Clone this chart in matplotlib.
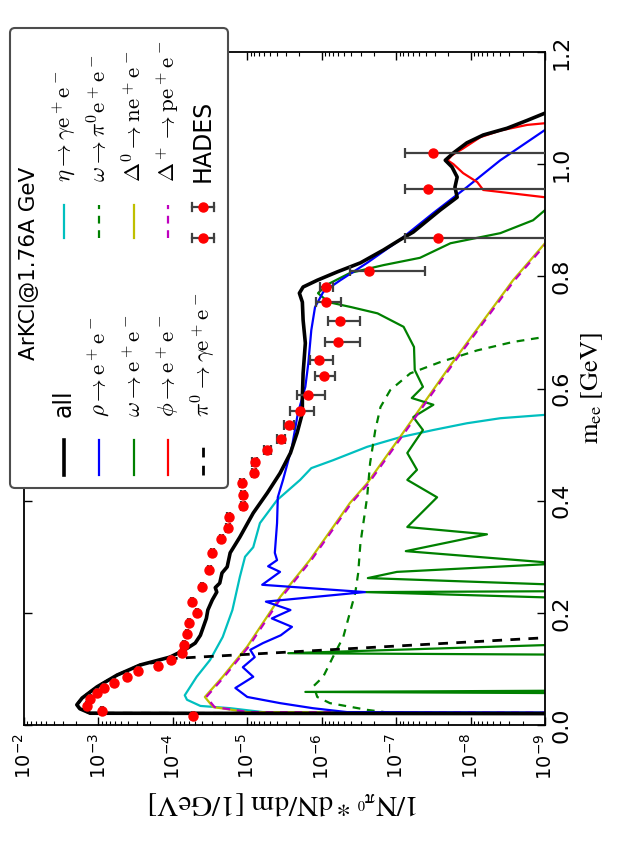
import numpy as np
import matplotlib
matplotlib.use("Agg")
import matplotlib.pyplot as plt
from matplotlib.patches import FancyBboxPatch
from matplotlib.lines import Line2D
from matplotlib.ticker import FixedLocator, FormatStrFormatter, NullFormatter, LogFormatterSciNotation

# ---------------------------------------------------------------------------
# Dilepton invariant-mass spectra, ArKCl @ 1.76A GeV
# values are log10(dN/dm); None marks an empty bin (zero yield)
# ---------------------------------------------------------------------------
all_m = [0.019, 0.021, 0.029, 0.036, 0.048, 0.068, 0.089, 0.107, 0.121, 0.134,
         0.146, 0.160, 0.175, 0.190, 0.205, 0.223, 0.237, 0.245, 0.253, 0.271,
         0.282, 0.307, 0.335, 0.378, 0.414, 0.449, 0.485, 0.521, 0.556, 0.585,
         0.627, 0.681, 0.722, 0.754, 0.770, 0.781, 0.793, 0.808, 0.824, 0.847,
         0.865, 0.879, 0.918, 0.941, 0.959, 0.977, 0.995, 1.007, 1.020, 1.038,
         1.052, 1.064, 1.078, 1.091, 1.100]
all_log = [None, -2.89, -2.75, -2.71, -2.78, -2.98, -3.25, -3.56, -3.96, -4.16,
           -4.30, -4.37, -4.41, -4.45, -4.47, -4.53, -4.59, -4.57, -4.63, -4.66,
           -4.73, -4.77, -4.90, -5.08, -5.27, -5.44, -5.58, -5.67, -5.74, -5.74,
           -5.75, -5.78, -5.75, -5.74, -5.70, -5.75, -5.94, -6.21, -6.52, -6.83,
           -7.05, -7.23, -7.59, -7.82, -7.79, -7.82, -7.75, -7.66, -7.77, -7.95,
           -8.17, -8.49, -8.76, -9.00, -9.40]

rho_m = [0.019, 0.023, 0.030, 0.039, 0.050, 0.066, 0.086, 0.103, 0.121, 0.134,
         0.146, 0.160, 0.175, 0.190, 0.205, 0.220, 0.237, 0.250, 0.273, 0.283,
         0.294, 0.307, 0.360, 0.406, 0.437, 0.496, 0.556, 0.603, 0.645, 0.704,
         0.745, 0.772, 0.793, 0.824, 0.865, 0.913, 0.959, 1.007, 1.061, 1.100]
rho_log = [None, -6.34, -5.88, -5.44, -5.00, -4.84, -5.08, -4.94, -5.10, -5.04,
           -5.21, -5.45, -5.60, -5.33, -5.58, -5.25, -6.58, -5.20, -5.44, -5.28,
           -5.40, -5.37, -5.40, -5.41, -5.48, -5.60, -5.68, -5.78, -5.82, -5.86,
           -5.91, -6.02, -6.25, -6.61, -7.05, -7.50, -7.95, -8.40, -9.00, -9.40]

omega_m = [0.050, 0.059, 0.068, 0.118, 0.128, 0.145, 0.150, 0.215, 0.226, 0.237,
           0.245, 0.250, 0.262, 0.273, 0.288, 0.310, 0.340, 0.353, 0.406, 0.437,
           0.455, 0.485, 0.526, 0.549, 0.571, 0.583, 0.603, 0.633, 0.674, 0.710,
           0.734, 0.745, 0.754, 0.770, 0.785, 0.806, 0.820, 0.833, 0.859, 0.877,
           0.900, 0.918, 0.930]
omega_log = [None, -5.78, None, None, -5.55, -9.60, None, None, -9.40, -6.58,
             None, -9.20, -6.62, -7.01, -9.20, -7.13, -8.22, -7.15, -7.55, -7.15,
             -7.28, -7.15, -7.36, -7.23, -7.50, -7.21, -7.36, -7.25, -7.24, -7.10,
             -6.75, -6.40, -6.09, -5.95, -6.07, -6.38, -6.83, -7.32, -7.73, -8.40,
             -8.84, -9.00, -9.50]

phi_m = [0.930, 0.941, 0.954, 0.968, 0.984, 1.000, 1.007, 1.016, 1.028, 1.048,
         1.060, 1.070, 1.073, 1.080]
phi_log = [-9.6, -9.0, -8.17, -8.09, -7.90, -7.77, -7.69, -7.75, -7.90, -8.13,
           -8.40, -8.76, -9.00, -9.6]

pi0_m = [0.019, 0.021, 0.029, 0.036, 0.048, 0.068, 0.089, 0.107, 0.119, 0.160]
pi0_log = [None, -2.89, -2.75, -2.71, -2.78, -2.98, -3.25, -3.56, -4.06, -9.6]

eta_m = [0.019, 0.023, 0.030, 0.034, 0.045, 0.053, 0.086, 0.116, 0.157, 0.205,
         0.264, 0.300, 0.317, 0.360, 0.401, 0.437, 0.458, 0.472, 0.496, 0.513,
         0.526, 0.538, 0.547, 0.553, 0.560]
eta_log = [None, -5.21, -4.77, -4.37, -4.19, -4.16, -4.32, -4.50, -4.67, -4.80,
           -4.90, -4.97, -5.08, -5.17, -5.40, -5.71, -5.86, -6.15, -6.61, -7.05,
           -7.50, -7.95, -8.40, -9.00, -9.60]

omega_dalitz_m = [0.018, 0.021, 0.027, 0.039, 0.050, 0.062, 0.068, 0.086, 0.121, 0.157,
                  0.235, 0.271, 0.324, 0.406, 0.467, 0.526, 0.567, 0.597, 0.627, 0.647,
                  0.668, 0.683, 0.692, 0.700]
omega_dalitz_log = [None, -6.96, -6.61, -6.11, -5.94, -5.91, -5.88, -6.02, -6.15, -6.29,
                    -6.45, -6.49, -6.52, -6.61, -6.65, -6.72, -6.79, -6.92, -7.19, -7.59,
                    -8.09, -8.57, -9.00, -9.60]

delta0_m = [0.019, 0.023, 0.032, 0.050, 0.086, 0.140, 0.182, 0.228, 0.294, 0.396,
            0.431, 0.513, 0.615, 0.645, 0.793, 0.859, 0.870]
delta0_log = [None, -5.00, -4.54, -4.43, -4.67, -5.00, -5.21, -5.44, -5.84, -6.38,
              -6.61, -7.05, -7.59, -7.75, -8.57, -9.00, -9.10]

deltap_m = [0.019, 0.023, 0.032, 0.050, 0.086, 0.140, 0.182, 0.228, 0.294, 0.396,
            0.431, 0.513, 0.615, 0.645, 0.793, 0.859, 0.870]
deltap_log = [None, -5.02, -4.56, -4.45, -4.69, -5.02, -5.23, -5.46, -5.86, -6.40,
              -6.63, -7.07, -7.61, -7.77, -8.59, -9.02, -9.12]

hades_m = [0.016, 0.025, 0.034, 0.046, 0.057, 0.066, 0.075, 0.086, 0.096, 0.105,
           0.116, 0.128, 0.143, 0.162, 0.182, 0.200, 0.220, 0.246, 0.276, 0.307,
           0.332, 0.351, 0.371, 0.390, 0.410, 0.431, 0.449, 0.469, 0.490, 0.510,
           0.535, 0.560, 0.588, 0.622, 0.651, 0.683, 0.720, 0.754, 0.781, 0.810,
           0.868, 0.955, 1.020]
hades_log = [-4.27, -3.05, -2.85, -2.89, -2.98, -3.08, -3.21, -3.38, -3.53, -3.80,
             -3.98, -4.12, -4.15, -4.19, -4.22, -4.32, -4.26, -4.39, -4.49, -4.53,
             -4.65, -4.74, -4.75, -4.94, -4.94, -4.93, -5.09, -5.10, -5.27, -5.45,
             -5.56, -5.71, -5.82, -6.03, -5.97, -6.22, -6.25, -6.06, -6.06, -6.64,
             -7.56, -7.43, -7.50]
hades_rel_err = [0.03, 0.03, 0.03, 0.03, 0.03, 0.03, 0.03, 0.03, 0.03, 0.03,
                 0.03, 0.03, 0.03, 0.03, 0.03, 0.03, 0.03, 0.04, 0.04, 0.04,
                 0.05, 0.05, 0.05, 0.06, 0.06, 0.06, 0.07, 0.08, 0.10, 0.12,
                 0.15, 0.35, 0.41, 0.30, 0.35, 0.50, 0.45, 0.37, 0.20, 0.82,
                 1.75, 1.04, 1.40]

legend_left = ["all", r"$\rho\rightarrow \mathrm{e}^+\mathrm{e}^-$",
               r"$\omega\rightarrow \mathrm{e}^+\mathrm{e}^-$",
               r"$\phi\rightarrow \mathrm{e}^+\mathrm{e}^-$",
               r"$\pi^0\rightarrow\gamma \mathrm{e}^+\mathrm{e}^-$"]
legend_right = [r"$\eta\rightarrow\gamma \mathrm{e}^+\mathrm{e}^-$",
                r"$\omega\rightarrow\pi^0\mathrm{e}^+\mathrm{e}^-$",
                r"$\Delta^0\rightarrow \mathrm{n}\mathrm{e}^+\mathrm{e}^-$",
                r"$\Delta^+\rightarrow \mathrm{p}\mathrm{e}^+\mathrm{e}^-$",
                "HADES"]
legend_title = "ArKCl@1.76A GeV"
mass_ticks = [0.0, 0.2, 0.4, 0.6, 0.8, 1.0, 1.2]
yield_ticks = [1e-2, 1e-3, 1e-4, 1e-5, 1e-6, 1e-7, 1e-8, 1e-9]

# ---------------------------------------------------------------------------
W, H = 619, 843
fig = plt.figure(figsize=(W / 100, H / 100), dpi=100)
fig.patch.set_facecolor("white")

# axes box (the plot is drawn turned on its side: mass runs upward)
x0, x1, y0, y1 = 24, 545, 52, 725
ax = fig.add_axes([x0 / W, 1 - y1 / H, (x1 - x0) / W, (y1 - y0) / H])

# empty bins are drawn at a floor far below the visible range of the log axis
EMPTY_FLOOR = 1e-20


def v(logs):
    return np.array([EMPTY_FLOOR if l is None else 10.0 ** l for l in logs])


lw = 1.6
dash = (0, (3.5, 3))
ax.plot(v(eta_log), eta_m, color="c", lw=lw, zorder=2)
ax.plot(v(delta0_log), delta0_m, color="y", lw=lw, zorder=2)
ax.plot(v(deltap_log), deltap_m, color="m", lw=lw, ls=dash, zorder=2.1)
ax.plot(v(omega_dalitz_log), omega_dalitz_m, color="g", lw=lw, ls=dash, zorder=2)
ax.plot(v(omega_log), omega_m, color="g", lw=lw, zorder=2)
ax.plot(v(rho_log), rho_m, color="b", lw=lw, zorder=2.2)
ax.plot(v(phi_log), phi_m, color="r", lw=lw, zorder=2.2)
ax.plot(v(pi0_log), pi0_m, color="k", lw=2.0, ls=dash, zorder=2.3)
ax.plot(v(all_log), all_m, color="k", lw=2.6, zorder=2.4)

hv = v(hades_log)
herr = hv * np.asarray(hades_rel_err)
ax.errorbar(hv, hades_m, xerr=herr, fmt="o", color="r", ms=6.5, mec="r",
            ecolor="0.25", elinewidth=1.6, capsize=3.5, capthick=1.6, zorder=3)

ax.set_xscale("log", nonpositive="clip")
ax.set_xlim(1e-2, 1e-9)
ax.set_ylim(0, 1.2)
ax.xaxis.set_major_locator(FixedLocator(yield_ticks))
ax.xaxis.set_major_formatter(LogFormatterSciNotation())
minor = [k * 10.0 ** e for e in range(-9, -2) for k in range(2, 10)]
ax.xaxis.set_minor_locator(FixedLocator(minor))
ax.xaxis.set_minor_formatter(NullFormatter())
ax.yaxis.set_major_locator(FixedLocator(mass_ticks))
ax.yaxis.set_major_formatter(FormatStrFormatter("%.1f"))

ax.tick_params(which="both", direction="in", top=True, bottom=True,
               left=True, right=True, labelleft=False, labelright=True)
ax.tick_params(which="major", length=6, width=1.0)
ax.tick_params(which="minor", length=3, width=0.8)
ax.tick_params(axis="x", labelrotation=90, labelsize=14, pad=6)
ax.tick_params(axis="y", labelrotation=90, labelsize=16, pad=5)
for t in ax.get_yticklabels():
    t.set_verticalalignment("center")
for s in ax.spines.values():
    s.set_linewidth(1.3)

ax.yaxis.set_label_position("right")
ax.set_ylabel(r"$\mathrm{m_{ee}\ [GeV]}$", fontsize=19, rotation=90,
              math_fontfamily="stix", labelpad=5)
ax.set_xlabel(r"$\mathrm{1/N_{\pi^0} * dN/dm\ [1/GeV]}$", fontsize=21,
              rotation=180, math_fontfamily="stix", labelpad=7)

# ---------------------------------------------------------------------------
# legend, drawn on its side in pixel space
tr = fig.dpi_scale_trans


def P(x, y):
    return (x / 100.0, (H - y) / 100.0)


bx, by = P(10, 488)
box = FancyBboxPatch((bx, by), (228 - 10) / 100.0, (488 - 28) / 100.0,
                     boxstyle="round,pad=0,rounding_size=0.05",
                     transform=tr, facecolor="white", edgecolor="0.3", lw=1.5,
                     zorder=5)
fig.add_artist(box)

tx, ty = P(29, 263)
fig.text(tx, ty, legend_title, transform=tr, rotation=90, rotation_mode="anchor",
         ha="center", va="center", fontsize=15.5, zorder=6)

col_x = [64, 99, 134, 168, 203]
left_styles = [dict(color="k", lw=2.6), dict(color="b", lw=1.6),
               dict(color="g", lw=1.6), dict(color="r", lw=1.6),
               dict(color="k", lw=2.0, ls=dash)]
right_styles = [dict(color="c", lw=1.6), dict(color="g", lw=1.6, ls=dash),
                dict(color="y", lw=1.6), dict(color="m", lw=1.6, ls=dash),
                None]


def legend_label(x, y, s):
    px_, py_ = P(x, y)
    size = 17 if not s.startswith("$") else 16.5
    fig.text(px_, py_, s, transform=tr, rotation=90, rotation_mode="anchor",
             ha="left", va="center", fontsize=size, math_fontfamily="cm", zorder=6)


for x, lab, st in zip(col_x, legend_left, left_styles):
    (ax_, ay0), (_, ay1) = P(x, 475), P(x, 440)
    fig.add_artist(Line2D([ax_, ax_], [ay0, ay1], transform=tr, zorder=6, **st))
    legend_label(x, 417, lab)

for x, lab, st in zip(col_x, legend_right, right_styles):
    if st is not None:
        (ax_, ay0), (_, ay1) = P(x, 238), P(x, 205)
        fig.add_artist(Line2D([ax_, ax_], [ay0, ay1], transform=tr, zorder=6, **st))
    else:
        for yy in (207, 238):
            (ex0, ey), (ex1, _) = P(x - 11, yy), P(x + 11, yy)
            fig.add_artist(Line2D([ex0, ex1], [ey, ey], transform=tr, color="0.25",
                                  lw=1.6, zorder=6))
            for xe in (x - 11, x + 11):
                (cx, cy0), (_, cy1) = P(xe, yy - 4), P(xe, yy + 4)
                fig.add_artist(Line2D([cx, cx], [cy0, cy1], transform=tr,
                                      color="0.25", lw=1.6, zorder=6))
            mx, my = P(x, yy)
            fig.add_artist(Line2D([mx], [my], transform=tr, marker="o", ms=6.5,
                                  color="r", mec="r", ls="none", zorder=7))
    legend_label(x, 182, lab)

fig.savefig("out.png", dpi=100, facecolor="white")
